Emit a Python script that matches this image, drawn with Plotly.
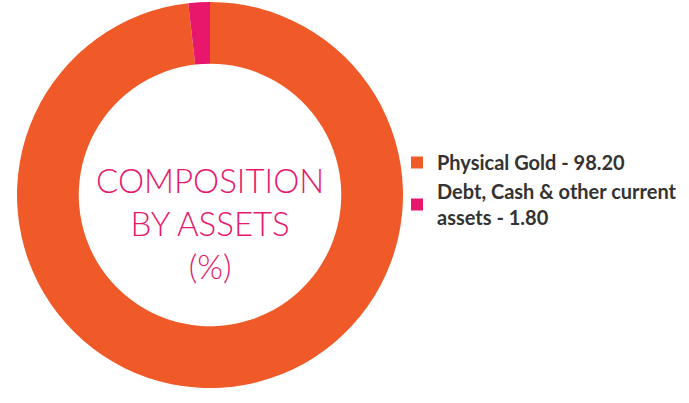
import plotly.graph_objects as go

labels = ["Physical Gold - 98.20", "Debt, Cash & other current<br>assets - 1.80"]
values = [98.20, 1.80]
colors = ["#F05A28", "#E8176B"]
center_text = "COMPOSITION<br>BY ASSETS<br>(%)"

W, H = 689, 403

fig = go.Figure(go.Pie(
    labels=labels,
    values=values,
    hole=0.68,
    sort=False,
    direction="clockwise",
    rotation=0,
    textinfo="none",
    hoverinfo="label+percent",
    marker=dict(colors=colors, line=dict(width=0)),
    domain=dict(x=[17/W, 403/W], y=[15/H, 401/H]),
))

fig.add_annotation(
    text=center_text, x=210/W, y=1-223/H, xref="paper", yref="paper",
    showarrow=False, xanchor="center", yanchor="middle",
    font=dict(family="Lato", size=33, color="#E8176B", weight=300),
)

fig.update_layout(
    width=W, height=H,
    margin=dict(l=0, r=0, t=0, b=0),
    paper_bgcolor="white", plot_bgcolor="white",
    showlegend=True,
    legend=dict(
        x=397/W, y=1-143/H, xanchor="left", yanchor="top",
        font=dict(family="Lato", size=20, color="#333333", weight=700),
        bgcolor="rgba(0,0,0,0)", tracegroupgap=0, itemwidth=30,
    ),
)

fig.write_html(
    "out.html",
    config={"displayModeBar": False},
    post_script="document.body.style.margin='0';document.body.style.overflow='hidden';",
)
